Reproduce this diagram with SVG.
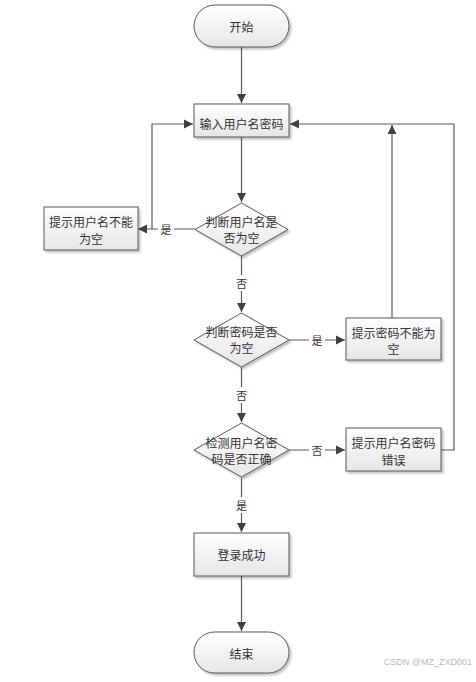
<svg xmlns="http://www.w3.org/2000/svg" width="476" height="682" viewBox="0 0 476 682">
<defs>
<linearGradient id="g" x1="0" y1="0" x2="0" y2="1">
<stop offset="0" stop-color="#ffffff"/>
<stop offset="1" stop-color="#e6e6e6"/>
</linearGradient>
<marker id="a" markerWidth="10" markerHeight="10" refX="9" refY="5" orient="auto" markerUnits="userSpaceOnUse">
<path d="M0,0.5 L9,5 L0,9.5 Z" fill="#404040"/>
</marker>
<filter id="s" x="-20%" y="-20%" width="140%" height="150%">
<feGaussianBlur in="SourceAlpha" stdDeviation="1"/>
<feOffset dx="1.5" dy="2" result="o"/>
<feComponentTransfer><feFuncA type="linear" slope="0.25"/></feComponentTransfer>
<feMerge><feMergeNode/><feMergeNode in="SourceGraphic"/></feMerge>
</filter>
</defs>
<style>
.n{fill:url(#g);stroke:#595959;stroke-width:1;filter:url(#s)}
.t{font-family:"Noto Sans CJK SC",sans-serif;font-size:12px;fill:#333;text-anchor:middle;dominant-baseline:central}
.l{font-family:"Noto Sans CJK SC",sans-serif;font-size:11px;fill:#333;text-anchor:middle;dominant-baseline:central}
.c{fill:none;stroke:#5a5a5a;stroke-width:1.2}
.w{font-family:"Liberation Sans",Arial,sans-serif;font-size:9px;fill:#b8b8b8;text-anchor:end;dominant-baseline:central}
</style>
<g id="connectors">
<line class="c" x1="241.5" y1="47" x2="241.5" y2="103" marker-end="url(#a)"/>
<line class="c" x1="241.5" y1="137" x2="241.5" y2="202" marker-end="url(#a)"/>
<polyline class="c" points="195,229 138,229" marker-end="url(#a)"/>
<polyline class="c" points="152,229 152,124 193,124" marker-end="url(#a)"/>
<line class="c" x1="241.5" y1="256" x2="241.5" y2="312" marker-end="url(#a)"/>
<line class="c" x1="289" y1="340" x2="345" y2="340" marker-end="url(#a)"/>
<line class="c" x1="392" y1="318" x2="392" y2="125" marker-end="url(#a)"/>
<line class="c" x1="241.5" y1="367" x2="241.5" y2="422" marker-end="url(#a)"/>
<line class="c" x1="289" y1="450" x2="345" y2="450" marker-end="url(#a)"/>
<polyline class="c" points="441,450 454,450 454,124 290,124" marker-end="url(#a)"/>
<line class="c" x1="241.5" y1="478" x2="241.5" y2="532" marker-end="url(#a)"/>
<line class="c" x1="241.5" y1="576" x2="241.5" y2="631" marker-end="url(#a)"/>
<rect x="158" y="221" width="16" height="16" fill="#fff"/>
<text class="l" x="166" y="229">是</text>
<rect x="233" y="275" width="16" height="16" fill="#fff"/>
<text class="l" x="241.5" y="283">否</text>
<rect x="309" y="332" width="16" height="16" fill="#fff"/>
<text class="l" x="317" y="340">是</text>
<rect x="233" y="387" width="16" height="16" fill="#fff"/>
<text class="l" x="241.5" y="395">否</text>
<rect x="309" y="442" width="16" height="16" fill="#fff"/>
<text class="l" x="317" y="450">否</text>
<rect x="233" y="497" width="16" height="16" fill="#fff"/>
<text class="l" x="241.5" y="505">是</text>
</g>
<g id="start">
<rect class="n" x="194" y="5" width="95" height="42" rx="21" ry="21"/>
<text class="t" x="241.5" y="26">开始</text>
</g>
<g id="input">
<rect class="n" x="194" y="104" width="95" height="33"/>
<text class="t" x="241.5" y="123">输入用户名密码</text>
</g>
<g id="check-user">
<polygon class="n" points="241.5,203 288,229.5 241.5,256 195,229.5"/>
<text class="t" x="241.5" y="221">判断用户名是</text>
<text class="t" x="241.5" y="237">否为空</text>
</g>
<g id="msg-user">
<rect class="n" x="44" y="207" width="94" height="43"/>
<text class="t" x="91" y="221">提示用户名不能</text>
<text class="t" x="91" y="238">为空</text>
</g>
<g id="check-pwd">
<polygon class="n" points="241.5,313 289,340 241.5,367 194,340"/>
<text class="t" x="241.5" y="331">判断密码是否</text>
<text class="t" x="241.5" y="347">为空</text>
</g>
<g id="msg-pwd">
<rect class="n" x="346" y="318" width="95" height="42"/>
<text class="t" x="393.5" y="332">提示密码不能为</text>
<text class="t" x="393.5" y="348">空</text>
</g>
<g id="verify">
<polygon class="n" points="241.5,423 289,450 241.5,477 194,450"/>
<text class="t" x="241.5" y="442">检测用户名密</text>
<text class="t" x="241.5" y="458">码是否正确</text>
</g>
<g id="msg-wrong">
<rect class="n" x="346" y="428" width="95" height="43"/>
<text class="t" x="393.5" y="442">提示用户名密码</text>
<text class="t" x="393.5" y="459">错误</text>
</g>
<g id="success">
<rect class="n" x="194" y="533" width="95" height="43"/>
<text class="t" x="241.5" y="554">登录成功</text>
</g>
<g id="end">
<rect class="n" x="194" y="632" width="95" height="41" rx="20.5" ry="20.5"/>
<text class="t" x="241.5" y="653">结束</text>
</g>
<text class="w" x="472" y="662">CSDN @MZ_ZXD001</text>
</svg>
